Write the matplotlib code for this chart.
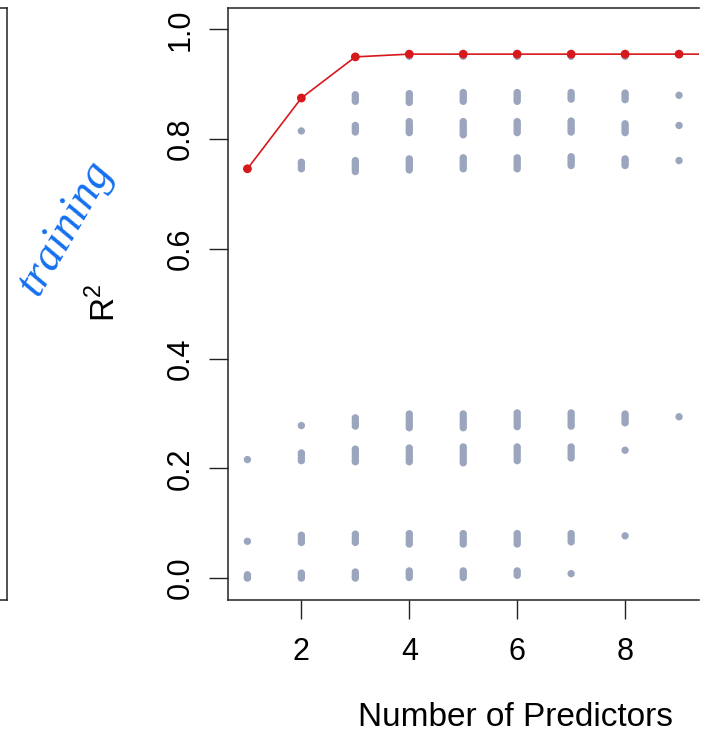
import matplotlib.pyplot as plt
import numpy as np

plt.rcParams["font.family"] = ["Liberation Sans", "DejaVu Sans"]
plt.rcParams["mathtext.fontset"] = "custom"
plt.rcParams["mathtext.rm"] = "Liberation Sans"

# R^2 of every subset, grouped by number of predictors
k_values = [1, 2, 3, 4, 5, 6, 7, 8, 9]
r2_by_k = [
    [0.746, 0.216, 0.067, 0.006, 0.003, 0.001, 0.000],
    [0.875, 0.815, 0.758, 0.754, 0.750, 0.746, 0.278, 0.228, 0.224, 0.219, 0.214, 0.078, 0.074,
     0.069, 0.065, 0.009, 0.005, 0.002, 0.000],
    [0.950, 0.881, 0.877, 0.873, 0.869, 0.825, 0.821, 0.817, 0.813, 0.761, 0.757, 0.753, 0.749,
     0.745, 0.741, 0.292, 0.287, 0.282, 0.277, 0.235, 0.231, 0.226, 0.221, 0.216, 0.212, 0.080,
     0.075, 0.070, 0.065, 0.011, 0.007, 0.003, 0.000],
    [0.955, 0.951, 0.883, 0.879, 0.875, 0.871, 0.867, 0.832, 0.828, 0.824, 0.820, 0.816, 0.812,
     0.764, 0.760, 0.756, 0.752, 0.748, 0.744, 0.299, 0.294, 0.289, 0.284, 0.279, 0.274, 0.237,
     0.232, 0.227, 0.222, 0.217, 0.212, 0.081, 0.076, 0.071, 0.066, 0.062, 0.013, 0.009, 0.005,
     0.001],
    [0.955, 0.951, 0.885, 0.881, 0.877, 0.873, 0.869, 0.832, 0.828, 0.824, 0.820, 0.816, 0.812,
     0.808, 0.766, 0.762, 0.758, 0.754, 0.750, 0.746, 0.299, 0.294, 0.289, 0.284, 0.279, 0.274,
     0.239, 0.234, 0.229, 0.224, 0.219, 0.214, 0.210, 0.081, 0.076, 0.071, 0.066, 0.062, 0.013,
     0.009, 0.005, 0.001],
    [0.955, 0.951, 0.885, 0.881, 0.877, 0.873, 0.869, 0.832, 0.828, 0.824, 0.820, 0.816, 0.812,
     0.766, 0.762, 0.758, 0.754, 0.750, 0.746, 0.301, 0.296, 0.291, 0.286, 0.281, 0.276, 0.239,
     0.234, 0.229, 0.224, 0.219, 0.214, 0.081, 0.076, 0.071, 0.066, 0.062, 0.013, 0.009, 0.005],
    [0.955, 0.951, 0.885, 0.881, 0.877, 0.873, 0.833, 0.829, 0.825, 0.821, 0.817, 0.813, 0.768,
     0.764, 0.760, 0.756, 0.752, 0.301, 0.296, 0.291, 0.286, 0.281, 0.277, 0.239, 0.234, 0.229,
     0.224, 0.219, 0.081, 0.076, 0.071, 0.066, 0.008],
    [0.955, 0.951, 0.884, 0.880, 0.876, 0.872, 0.828, 0.824, 0.820, 0.816, 0.812, 0.764, 0.760,
     0.756, 0.752, 0.299, 0.295, 0.291, 0.287, 0.283, 0.233, 0.077],
    [0.955, 0.880, 0.825, 0.761, 0.294],
]

# best R^2 for each number of predictors (the red line)
best_k = [1, 2, 3, 4, 5, 6, 7, 8, 9, 10]
best_r2 = [0.746, 0.875, 0.950, 0.955, 0.955, 0.955, 0.955, 0.955, 0.955, 0.955]

W, H = 709, 736
fig = plt.figure(figsize=(W / 100, H / 100), dpi=100)

# axes box in pixels: left 228, right 699, top 7.5, bottom 600
ax = fig.add_axes([228 / W, (H - 600) / H, (699 - 228) / W, (600 - 7.5) / H])

for k, vals in zip(k_values, r2_by_k):
    ax.scatter([k] * len(vals), vals, s=28, color="#9ba6be", edgecolors="none", zorder=2)

ax.plot(best_k, best_r2, color="#d7191c", lw=1.2, zorder=3)
ax.scatter(best_k, best_r2, s=40, color="#d7191c", edgecolors="none", zorder=4)

ax.set_xlim(0.64, 9.37)
ax.set_ylim(-0.04, 1.04)
ax.set_xticks([2, 4, 6, 8])
ax.set_yticks([0.0, 0.2, 0.4, 0.6, 0.8, 1.0])
ax.set_yticklabels(["0.0", "0.2", "0.4", "0.6", "0.8", "1.0"], rotation=90, va="center")

ax.tick_params(axis="both", direction="out", length=13.5, width=1.0, color="#222222",
               labelsize=22)
ax.tick_params(axis="x", pad=13)
ax.tick_params(axis="y", pad=10)

ax.spines["right"].set_visible(False)
for side in ["left", "top", "bottom"]:
    ax.spines[side].set_linewidth(1.1)
    ax.spines[side].set_color("#222222")

# axis labels placed like the R plot
fig.text(515 / W, 1 - 717 / H, "Number of Predictors", fontsize=24, ha="center", va="center")
fig.text(104 / W, 1 - 303 / H, r"R$^2$", fontsize=24, rotation=90, ha="center", va="center")

# handwritten note
fig.text(66 / W, 1 - 227 / H, "training", fontsize=33, rotation=60, color="#1570ef",
         family="Liberation Serif", style="italic", ha="center", va="center")

# edge of the neighbouring panel on the left
ax_left = fig.add_axes([-0.5, (H - 600) / H, 0.5 + 7 / W, (600 - 7.5) / H])
ax_left.set_xticks([])
ax_left.set_yticks([])
for side in ax_left.spines.values():
    side.set_linewidth(1.1)
    side.set_color("#222222")

fig.savefig("out.png", dpi=100)
